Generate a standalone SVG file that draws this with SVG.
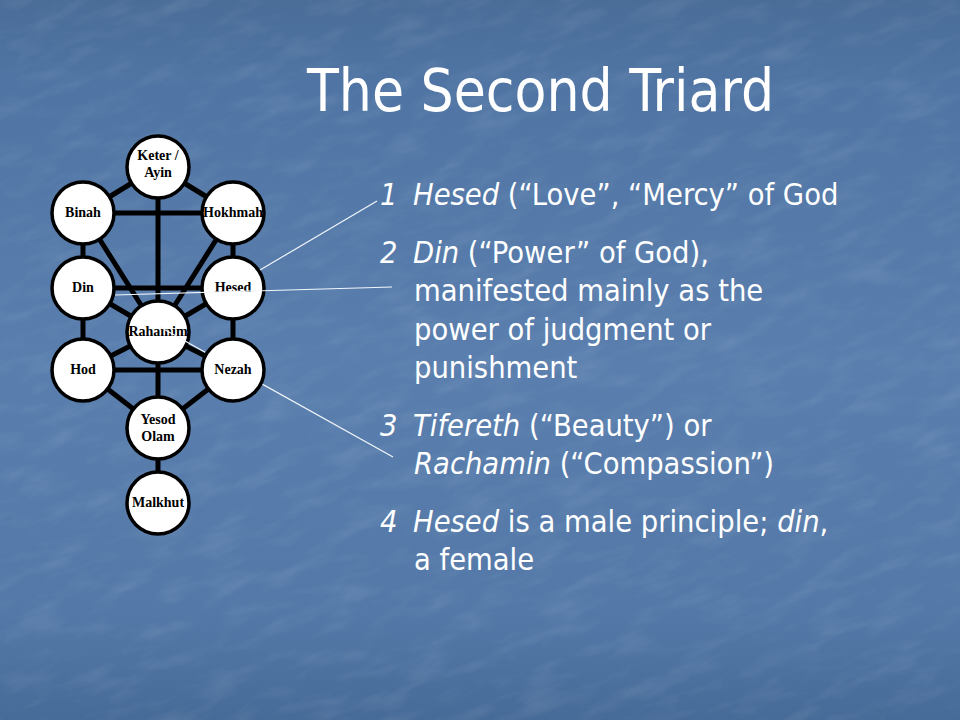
<svg xmlns="http://www.w3.org/2000/svg" width="960" height="720" viewBox="0 0 960 720">
  <defs>
    <linearGradient id="bg" x1="0" y1="0" x2="0" y2="1">
      <stop offset="0" stop-color="#4a6d98"/>
      <stop offset="0.12" stop-color="#5075a4"/>
      <stop offset="0.5" stop-color="#5a7fae"/>
      <stop offset="0.85" stop-color="#5479a8"/>
      <stop offset="1" stop-color="#476b98"/>
    </linearGradient>
    <filter id="tex" x="0" y="0" width="100%" height="100%">
      <feTurbulence type="fractalNoise" baseFrequency="0.02 0.06" numOctaves="4" seed="7" result="n"/>
      <feColorMatrix type="matrix" values="0 0 0 0 1  0 0 0 0 1  0 0 0 0 1  1.1 0 0 0 -0.5"/>
    </filter>
    <style>
      .edge { stroke: #000; stroke-width: 5; stroke-linecap: butt; }
      .node circle { fill: #fff; stroke: #000; stroke-width: 3.5; }
      .node text { font-family: "Liberation Serif", "Times New Roman", serif; font-weight: bold; font-size: 14px; fill: #000; text-anchor: middle; }
      .call { stroke: #f2f6fb; stroke-width: 1.2; }
      .title { font-family: "DejaVu Sans Condensed", "DejaVu Sans", sans-serif; font-size: 58px; fill: #fff; }
      .body { font-family: "DejaVu Sans Condensed", "DejaVu Sans", sans-serif; font-size: 30.5px; fill: #fff; }
      .i { font-style: italic; }
    </style>
  </defs>

  <rect width="960" height="720" fill="url(#bg)"/>
  <g transform="rotate(-20 480 360)" opacity="0.16">
    <rect x="-200" y="-200" width="1360" height="1120" filter="url(#tex)"/>
  </g>

  <text class="title" x="307" y="111">The Second Triard</text>

  <g id="connectors">
    <line class="edge" x1="158" y1="167" x2="83" y2="213"/>
    <line class="edge" x1="158" y1="167" x2="233" y2="213"/>
    <line class="edge" x1="83" y1="213" x2="233" y2="213"/>
    <line class="edge" x1="158" y1="167" x2="158" y2="332"/>
    <line class="edge" x1="83" y1="213" x2="83" y2="288"/>
    <line class="edge" x1="233" y1="213" x2="233" y2="288"/>
    <line class="edge" x1="83" y1="213" x2="158" y2="332"/>
    <line class="edge" x1="233" y1="213" x2="158" y2="332"/>
    <line class="edge" x1="83" y1="288" x2="233" y2="288"/>
    <line class="edge" x1="83" y1="288" x2="158" y2="332"/>
    <line class="edge" x1="233" y1="288" x2="158" y2="332"/>
    <line class="edge" x1="83" y1="288" x2="83" y2="370"/>
    <line class="edge" x1="233" y1="288" x2="233" y2="370"/>
    <line class="edge" x1="83" y1="370" x2="158" y2="332"/>
    <line class="edge" x1="233" y1="370" x2="158" y2="332"/>
    <line class="edge" x1="83" y1="370" x2="233" y2="370"/>
    <line class="edge" x1="83" y1="370" x2="158" y2="428"/>
    <line class="edge" x1="233" y1="370" x2="158" y2="428"/>
    <line class="edge" x1="158" y1="332" x2="158" y2="428"/>
    <line class="edge" x1="158" y1="428" x2="158" y2="503"/>
  </g>

  <g id="keter" class="node"><circle cx="158" cy="167" r="31"/><text x="158" y="160">Keter /</text><text x="158" y="177">Ayin</text></g>
  <g id="binah" class="node"><circle cx="83" cy="213" r="31"/><text x="83" y="217">Binah</text></g>
  <g id="hokhmah" class="node"><circle cx="233" cy="213" r="31"/><text x="233" y="217">Hokhmah</text></g>
  <g id="din" class="node"><circle cx="83" cy="288" r="31"/><text x="83" y="292">Din</text></g>
  <g id="hesed" class="node"><circle cx="233" cy="288" r="31"/><text x="233" y="292">Hesed</text></g>
  <g id="rahamim" class="node"><circle cx="158" cy="332" r="31"/><text x="158" y="336">Rahamim</text></g>
  <g id="callout3" class="callouts"><line class="call" x1="160" y1="327" x2="393" y2="457"/></g>
  <g id="hod" class="node"><circle cx="83" cy="370" r="31"/><text x="83" y="374">Hod</text></g>
  <g id="nezah" class="node"><circle cx="233" cy="370" r="31"/><text x="233" y="374">Nezah</text></g>
  <g id="yesod" class="node"><circle cx="158" cy="428" r="31"/><text x="158" y="424">Yesod</text><text x="158" y="441">Olam</text></g>
  <g id="malkhut" class="node"><circle cx="158" cy="503" r="31"/><text x="158" y="507">Malkhut</text></g>

  <g id="callouts">
    <line class="call" x1="260" y1="270" x2="377" y2="201"/>
    <line class="call" x1="115" y1="295" x2="392" y2="287"/>
  </g>

  <g id="bullets" class="body">
    <text y="205"><tspan class="i" x="380">1</tspan><tspan class="i" x="413">Hesed</tspan> (“Love”, “Mercy” of God</text>
    <text y="263"><tspan class="i" x="380">2</tspan><tspan class="i" x="413">Din</tspan> (“Power” of God),</text>
    <text x="414" y="301">manifested mainly as the</text>
    <text x="414" y="340">power of judgment or</text>
    <text x="414" y="378">punishment</text>
    <text y="436"><tspan class="i" x="380">3</tspan><tspan class="i" x="413">Tifereth</tspan> (“Beauty”) or</text>
    <text x="414" y="474"><tspan class="i">Rachamin</tspan> (“Compassion”)</text>
    <text y="532"><tspan class="i" x="380">4</tspan><tspan class="i" x="413">Hesed</tspan> is a male principle; <tspan class="i">din</tspan>,</text>
    <text x="414" y="570">a female</text>
  </g>
</svg>
